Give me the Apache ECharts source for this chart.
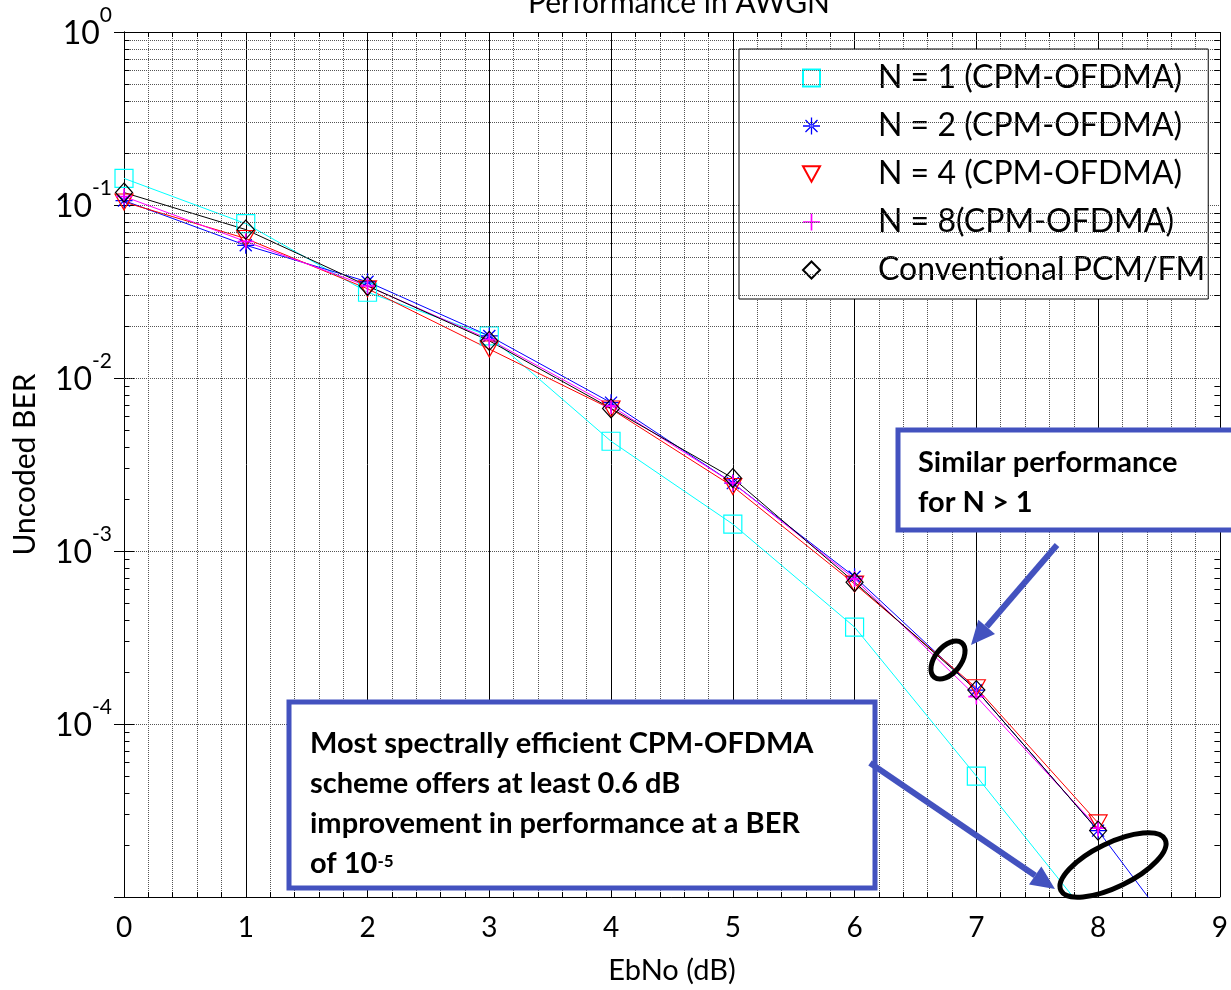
<!DOCTYPE html>
<html>
<head>
<meta charset="utf-8">
<script src="https://cdn.jsdelivr.net/npm/echarts@6/dist/echarts.min.js"></script>
<style>
  html, body { margin: 0; padding: 0; background: #fff; }
  #chart { width: 1231px; height: 990px; }
</style>
</head>
<body>
<div id="chart"></div>
<script>
// EbNo (dB)
const ebno = [0, 1, 2, 3, 4, 5, 6, 7, 8];
const ebnoN2 = [0, 1, 2, 3, 4, 5, 6, 7, 8, 9];
// uncoded BER
const berN1 = [0.1425, 0.078, 0.0313, 0.0175, 0.00431, 0.00143, 0.000363, 5.0e-5, 6.6e-6];
const berN2 = [0.106, 0.0585, 0.036, 0.0175, 0.0072, 0.00247, 0.00071, 0.000157, 2.42e-5, 2.8e-6];
const berN4 = [0.104, 0.064, 0.0328, 0.0147, 0.00662, 0.00236, 0.000645, 0.000162, 2.68e-5];
const berN8 = [0.112, 0.0615, 0.034, 0.0167, 0.0069, 0.00247, 0.00069, 0.000144, 2.5e-5];
const berConv = [0.118, 0.0721, 0.0341, 0.0164, 0.00667, 0.00264, 0.00066, 0.000157, 2.42e-5];

const names = ['N = 1 (CPM-OFDMA)', 'N = 2 (CPM-OFDMA)', 'N = 4 (CPM-OFDMA)', 'N = 8(CPM-OFDMA)', 'Conventional PCM/FM'];

const FONT = 'Lato';
const BLUE_BOX = '#4352BF';
const GRID_GRAY = '#555';

// marker shapes
const STAR = 'path://M-0.6,-8H0.6V-0.6H8V0.6H0.6V8H-0.6V0.6H-8V-0.6H-0.6Z' +
  'M5.236,6.084L6.084,5.236L-5.236,-6.084L-6.084,-5.236Z' +
  'M6.084,-5.236L5.236,-6.084L-6.084,5.236L-5.236,6.084Z';
const PLUS = 'path://M-0.8,-8H0.8V-0.8H8V0.8H0.8V8H-0.8V0.8H-8V-0.8H-0.8Z';
const TRI_DOWN = 'path://M0,0L20,0L10,18Z';

const pairs = (xs, ys) => ys.map((y, i) => [xs[i], y]);

// minor log gridlines / ticks (2..9 per decade)
const minorLines = [];
const minorTicks = [];
[-5, -4, -3, -2, -1].forEach(d => {
  for (let m = 2; m <= 9; m++) {
    const v = m * Math.pow(10, d);
    minorLines.push({ yAxis: v });
    minorTicks.push([{ coord: [0, v] }, { coord: [0.045, v] }]);
    minorTicks.push([{ coord: [8.955, v] }, { coord: [9, v] }]);
  }
});

function lineSeries(name, data, color, symbol, size, filled) {
  return {
    name: name,
    type: 'line',
    data: data,
    symbol: symbol,
    symbolSize: size,
    showAllSymbol: true,
    clip: true,
    z: 3,
    lineStyle: { color: color, width: 1 },
    itemStyle: filled
      ? { color: color, borderWidth: 0 }
      : { color: 'rgba(0,0,0,0)', borderColor: color, borderWidth: 1.2 },
    emphasis: { disabled: true }
  };
}

function arrow(x1, y1, x2, y2) {
  const ang = Math.atan2(y2 - y1, x2 - x1);
  const hl = 24, hw = 11;
  const bx = x2 - hl * Math.cos(ang), by = y2 - hl * Math.sin(ang);
  const px = -Math.sin(ang) * hw, py = Math.cos(ang) * hw;
  return [
    { type: 'line', z: 100, shape: { x1: x1, y1: y1, x2: bx, y2: by },
      style: { stroke: BLUE_BOX, lineWidth: 6 } },
    { type: 'polygon', z: 100, shape: { points: [[x2, y2], [bx + px, by + py], [bx - px, by - py]] },
      style: { fill: BLUE_BOX } }
  ];
}

const chart = echarts.init(document.getElementById('chart'));

const option = {
  animation: false,
  backgroundColor: '#fff',
  title: {
    text: 'Performance in AWGN',
    left: 674,
    textAlign: 'center',
    top: -17,
    textStyle: { fontFamily: FONT, fontSize: 30, fontWeight: 'normal', color: '#000' }
  },
  grid: { left: 124, right: 7, top: 32, bottom: 93 },
  legend: {
    data: [
      { name: names[0], icon: 'rect' },
      { name: names[1], icon: STAR },
      { name: names[2], icon: TRI_DOWN },
      { name: names[3], icon: PLUS },
      { name: names[4], icon: 'diamond' }
    ],
    orient: 'vertical',
    left: 739,
    top: 49,
    itemWidth: 17,
    itemHeight: 17,
    itemGap: 12,
    padding: [11, 3, 11, 63],
    backgroundColor: '#fff',
    borderColor: '#000',
    borderWidth: 1,
    selectedMode: false,
    textStyle: { fontFamily: FONT, fontSize: 32, color: '#000', lineHeight: 36, padding: [0, 0, 0, 53] }
  },
  xAxis: [
    {
      type: 'value', min: 0, max: 9, interval: 1,
      name: 'EbNo (dB)', nameLocation: 'middle', nameGap: 59,
      nameTextStyle: { fontFamily: FONT, fontSize: 29, color: '#000' },
      axisLine: { show: true, lineStyle: { color: '#000', width: 1 } },
      axisTick: { show: true, inside: true, length: 8, lineStyle: { color: '#000' } },
      minorTick: { show: true, splitNumber: 5, length: 5, lineStyle: { color: '#000' } },
      axisLabel: { fontFamily: FONT, fontSize: 28, color: '#000', margin: 17 },
      splitLine: { show: true, lineStyle: { color: '#000', width: 1, type: 'solid' } },
      minorSplitLine: { show: true, lineStyle: { color: GRID_GRAY, width: 1, type: 'dotted' } }
    },
    {
      type: 'value', min: 0, max: 9, interval: 1, position: 'top',
      axisLine: { show: true, lineStyle: { color: '#000', width: 1 } },
      axisTick: { show: true, inside: true, length: 8, lineStyle: { color: '#000' } },
      minorTick: { show: true, splitNumber: 5, length: 5, lineStyle: { color: '#000' } },
      axisLabel: { show: false },
      splitLine: { show: false },
      minorSplitLine: { show: false }
    }
  ],
  yAxis: [
    {
      type: 'log', logBase: 10, min: 1e-5, max: 1, splitNumber: 5,
      name: 'Uncoded BER', nameLocation: 'middle', nameGap: 84,
      nameTextStyle: { fontFamily: FONT, fontSize: 30, color: '#000' },
      axisLine: { show: true, lineStyle: { color: '#000', width: 1 } },
      axisTick: { show: true, inside: true, length: 10, lineStyle: { color: '#000' } },
      axisLabel: {
        margin: 12,
        formatter: function (v) {
          const e = Math.round(Math.log10(v));
          if (e === -5) return '';
          return '{b|10}{s|' + e + '}';
        },
        rich: {
          b: { fontFamily: FONT, fontSize: 32, color: '#000', verticalAlign: 'bottom', lineHeight: 36 },
          s: { fontFamily: FONT, fontSize: 21, color: '#000', verticalAlign: 'bottom', lineHeight: 22, padding: [0, 0, 24, 0] }
        }
      },
      splitLine: { show: true, lineStyle: { color: GRID_GRAY, width: 1, type: 'dotted' } }
    },
    {
      type: 'log', logBase: 10, min: 1e-5, max: 1, splitNumber: 5, position: 'right',
      axisLine: { show: true, lineStyle: { color: '#000', width: 1 } },
      axisTick: { show: true, inside: true, length: 10, lineStyle: { color: '#000' } },
      axisLabel: { show: false },
      splitLine: { show: false }
    }
  ],
  series: [
    {
      name: '_minorGrid', type: 'line', data: [], z: 1, silent: true,
      markLine: {
        silent: true, symbol: 'none', animation: false,
        label: { show: false },
        lineStyle: { color: GRID_GRAY, width: 1, type: 'dotted' },
        data: minorLines
      }
    },
    {
      name: '_minorTicks', type: 'line', data: [], z: 1, silent: true,
      markLine: {
        silent: true, symbol: 'none', animation: false,
        label: { show: false },
        lineStyle: { color: '#000', width: 1, type: 'solid' },
        data: minorTicks
      }
    },
    lineSeries(names[0], pairs(ebno, berN1), '#00FFFF', 'rect', 18, false),
    lineSeries(names[1], pairs(ebnoN2, berN2), '#0000FF', STAR, 17, true),
    lineSeries(names[2], pairs(ebno, berN4), '#FF0000', TRI_DOWN, [18, 16], false),
    lineSeries(names[3], pairs(ebno, berN8), '#FF00FF', PLUS, 16, true),
    lineSeries(names[4], pairs(ebno, berConv), '#000000', 'diamond', [17, 19], false)
  ],
  graphic: [
    // "Similar performance" callout
    { type: 'rect', z: 100, shape: { x: 898, y: 430, width: 345, height: 100 },
      style: { fill: '#fff', stroke: BLUE_BOX, lineWidth: 5 } },
    { type: 'text', z: 101, x: 918, y: 443,
      style: { text: 'Similar performance\nfor N > 1', fontFamily: FONT, fontSize: 29,
        fontWeight: 'bold', lineHeight: 40, fill: '#000' } },
    // spectral efficiency callout
    { type: 'rect', z: 100, shape: { x: 289, y: 702, width: 586, height: 186 },
      style: { fill: '#fff', stroke: BLUE_BOX, lineWidth: 5 } },
    { type: 'text', z: 101, x: 310, y: 724,
      style: {
        text: 'Most spectrally efficient CPM-OFDMA\nscheme offers at least 0.6 dB\nimprovement in performance at a BER\nof 10{sup|-5}',
        fontFamily: FONT, fontSize: 29, fontWeight: 'bold', lineHeight: 40, fill: '#000',
        rich: { sup: { fontFamily: FONT, fontSize: 17, fontWeight: 'bold', fill: '#000',
          verticalAlign: 'bottom', padding: [0, 0, 14, 0] } }
      } },
    ...arrow(1057, 545, 971, 645),
    ...arrow(870, 763, 1055, 889),
    // highlight ellipses
    { type: 'ellipse', z: 102, x: 948, y: 660, rotation: 0.9,
      shape: { cx: 0, cy: 0, rx: 22, ry: 13 },
      style: { fill: 'none', stroke: '#000', lineWidth: 5 } },
    { type: 'ellipse', z: 102, x: 1113, y: 865, rotation: 0.454,
      shape: { cx: 0, cy: 0, rx: 58, ry: 22 },
      style: { fill: 'none', stroke: '#000', lineWidth: 5 } }
  ]
};

chart.setOption(option);
</script>
</body>
</html>
